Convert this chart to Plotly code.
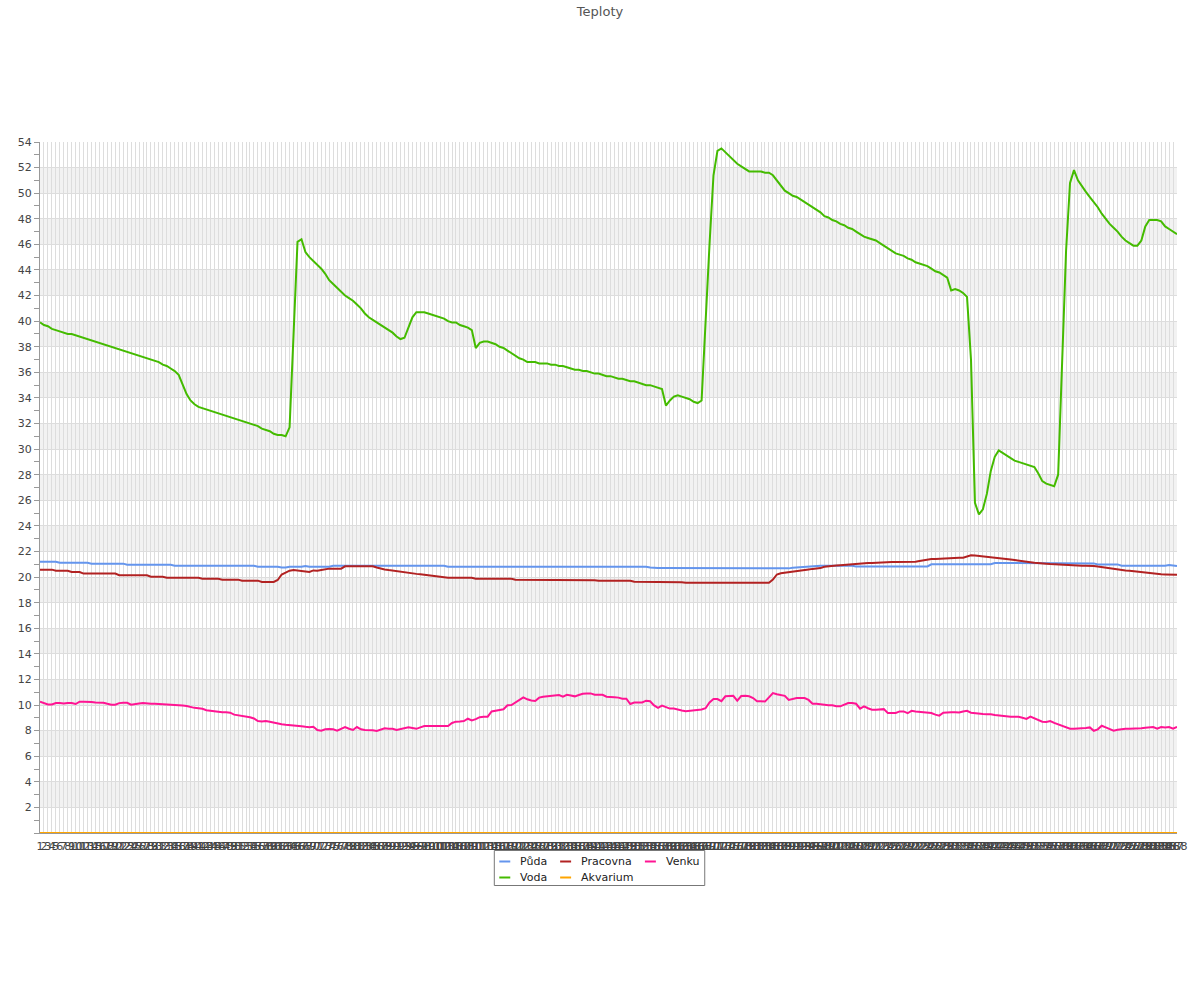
import plotly.graph_objects as go

# ---------------- data ----------------
categories = [str(i) for i in range(1, 289)]

puda = [
    21.2, 21.2, 21.2, 21.2, 21.2, 21.12, 21.12, 21.12, 21.12, 21.12,
    21.12, 21.12, 21.12, 21.05, 21.05, 21.05, 21.05, 21.05, 21.05, 21.05,
    21.05, 21.05, 20.97, 20.97, 20.97, 20.97, 20.97, 20.97, 20.97, 20.97,
    20.97, 20.97, 20.97, 20.97, 20.89, 20.89, 20.89, 20.89, 20.89, 20.89,
    20.89, 20.89, 20.89, 20.89, 20.89, 20.89, 20.89, 20.89, 20.89, 20.89,
    20.89, 20.89, 20.89, 20.89, 20.89, 20.81, 20.81, 20.81, 20.81, 20.81,
    20.81, 20.74, 20.74, 20.81, 20.81, 20.81, 20.81, 20.87, 20.81, 20.81,
    20.81, 20.81, 20.81, 20.81, 20.89, 20.89, 20.89, 20.89, 20.89, 20.89,
    20.89, 20.89, 20.89, 20.89, 20.89, 20.89, 20.89, 20.89, 20.89, 20.89,
    20.89, 20.89, 20.89, 20.89, 20.89, 20.89, 20.89, 20.89, 20.89, 20.89,
    20.89, 20.89, 20.89, 20.81, 20.81, 20.81, 20.81, 20.81, 20.81, 20.81,
    20.81, 20.81, 20.81, 20.81, 20.81, 20.81, 20.81, 20.81, 20.81, 20.81,
    20.81, 20.81, 20.81, 20.81, 20.81, 20.81, 20.81, 20.81, 20.81, 20.81,
    20.81, 20.81, 20.81, 20.81, 20.81, 20.81, 20.81, 20.81, 20.81, 20.81,
    20.81, 20.81, 20.81, 20.81, 20.81, 20.81, 20.81, 20.81, 20.81, 20.81,
    20.81, 20.81, 20.81, 20.81, 20.74, 20.7, 20.7, 20.7, 20.7, 20.7,
    20.7, 20.7, 20.7, 20.7, 20.7, 20.7, 20.7, 20.65, 20.65, 20.65,
    20.65, 20.65, 20.65, 20.65, 20.65, 20.65, 20.65, 20.65, 20.65, 20.65,
    20.65, 20.65, 20.65, 20.65, 20.65, 20.65, 20.65, 20.65, 20.65, 20.68,
    20.72, 20.75, 20.78, 20.8, 20.82, 20.85, 20.87, 20.89, 20.89, 20.89,
    20.89, 20.89, 20.89, 20.89, 20.89, 20.89, 20.83, 20.83, 20.83, 20.83,
    20.83, 20.83, 20.83, 20.83, 20.83, 20.83, 20.83, 20.83, 20.83, 20.83,
    20.83, 20.83, 20.83, 20.83, 20.83, 21.0, 21.0, 21.0, 21.0, 21.0,
    21.0, 21.0, 21.0, 21.0, 21.0, 21.0, 21.0, 21.0, 21.0, 21.0,
    21.0, 21.1, 21.1, 21.1, 21.1, 21.1, 21.1, 21.1, 21.07, 21.07,
    21.07, 21.07, 21.07, 21.07, 21.07, 21.07, 21.07, 21.07, 21.07, 21.07,
    21.07, 21.07, 21.07, 21.07, 21.07, 21.07, 21.07, 20.99, 20.99, 20.99,
    20.99, 20.99, 20.99, 20.89, 20.89, 20.89, 20.89, 20.89, 20.89, 20.89,
    20.89, 20.89, 20.89, 20.89, 20.89, 20.95, 20.92, 20.86,
]

voda = [
    39.9, 39.7, 39.6, 39.4, 39.3, 39.2, 39.1, 39.0, 39.0, 38.9,
    38.8, 38.7, 38.6, 38.5, 38.4, 38.3, 38.2, 38.1, 38.0, 37.9,
    37.8, 37.7, 37.6, 37.5, 37.4, 37.3, 37.2, 37.1, 37.0, 36.9,
    36.8, 36.6, 36.5, 36.3, 36.1, 35.8, 35.0, 34.3, 33.8, 33.5,
    33.3, 33.2, 33.1, 33.0, 32.9, 32.8, 32.7, 32.6, 32.5, 32.4,
    32.3, 32.2, 32.1, 32.0, 31.9, 31.8, 31.6, 31.5, 31.4, 31.2,
    31.1, 31.1, 31.0, 31.7, 39.0, 46.2, 46.4, 45.4, 45.0, 44.7,
    44.4, 44.1, 43.7, 43.2, 42.9, 42.6, 42.3, 42.0, 41.8, 41.6,
    41.3, 41.0, 40.6, 40.3, 40.1, 39.9, 39.7, 39.5, 39.3, 39.1,
    38.8, 38.6, 38.7, 39.5, 40.3, 40.7, 40.7, 40.7, 40.6, 40.5,
    40.4, 40.3, 40.2, 40.0, 39.9, 39.9, 39.7, 39.6, 39.5, 39.3,
    37.9, 38.3, 38.4, 38.4, 38.3, 38.2, 38.0, 37.9, 37.7, 37.5,
    37.3, 37.1, 37.0, 36.8, 36.8, 36.8, 36.7, 36.7, 36.7, 36.6,
    36.6, 36.5, 36.5, 36.4, 36.3, 36.2, 36.2, 36.1, 36.1, 36.0,
    35.9, 35.9, 35.8, 35.7, 35.7, 35.6, 35.5, 35.5, 35.4, 35.3,
    35.3, 35.2, 35.1, 35.0, 35.0, 34.9, 34.8, 34.7, 33.4, 33.8,
    34.1, 34.2, 34.1, 34.0, 33.9, 33.7, 33.6, 33.8, 40.5, 46.0,
    51.4, 53.3, 53.5, 53.2, 52.9, 52.6, 52.3, 52.1, 51.9, 51.7,
    51.7, 51.7, 51.7, 51.6, 51.6, 51.4, 51.0, 50.6, 50.2, 50.0,
    49.8, 49.7, 49.5, 49.3, 49.1, 48.9, 48.7, 48.5, 48.2, 48.1,
    47.9, 47.8, 47.6, 47.5, 47.3, 47.2, 47.0, 46.8, 46.6, 46.5,
    46.4, 46.3, 46.1, 45.9, 45.7, 45.5, 45.3, 45.2, 45.1, 44.9,
    44.8, 44.6, 44.5, 44.4, 44.3, 44.1, 43.9, 43.8, 43.6, 43.4,
    42.4, 42.5, 42.4, 42.2, 41.9, 37.0, 25.8, 24.9, 25.3, 26.5,
    28.3, 29.4, 29.9, 29.7, 29.5, 29.3, 29.1, 29.0, 28.9, 28.8,
    28.7, 28.6, 28.1, 27.5, 27.3, 27.2, 27.1, 28.0, 36.0, 45.5,
    50.8, 51.8, 51.0, 50.5, 50.1, 49.7, 49.3, 48.9, 48.4, 48.0,
    47.6, 47.3, 47.0, 46.6, 46.3, 46.1, 45.9, 45.9, 46.3, 47.4,
    47.9, 47.9, 47.9, 47.8, 47.4, 47.2, 47.0, 46.8,
]

pracovna = [
    20.58, 20.58, 20.58, 20.58, 20.5, 20.5, 20.5, 20.5, 20.4, 20.4,
    20.4, 20.27, 20.27, 20.27, 20.27, 20.27, 20.27, 20.27, 20.27, 20.27,
    20.14, 20.14, 20.14, 20.14, 20.14, 20.14, 20.14, 20.14, 20.03, 20.03,
    20.03, 20.03, 19.95, 19.95, 19.95, 19.95, 19.95, 19.95, 19.95, 19.95,
    19.95, 19.87, 19.87, 19.87, 19.87, 19.87, 19.8, 19.8, 19.8, 19.8,
    19.8, 19.72, 19.72, 19.72, 19.72, 19.72, 19.62, 19.62, 19.62, 19.62,
    19.77, 20.2, 20.35, 20.5, 20.56, 20.52, 20.5, 20.45, 20.4, 20.52,
    20.5, 20.55, 20.62, 20.66, 20.66, 20.66, 20.66, 20.84, 20.84, 20.84,
    20.84, 20.84, 20.84, 20.84, 20.84, 20.75, 20.66, 20.6, 20.55, 20.5,
    20.47, 20.42, 20.37, 20.3, 20.28, 20.25, 20.22, 20.15, 20.14, 20.1,
    20.05, 20.03, 20.0, 19.95, 19.95, 19.95, 19.95, 19.95, 19.95, 19.95,
    19.87, 19.87, 19.87, 19.87, 19.87, 19.87, 19.87, 19.87, 19.87, 19.87,
    19.8, 19.8, 19.8, 19.8, 19.8, 19.8, 19.8, 19.8, 19.8, 19.8,
    19.8, 19.8, 19.8, 19.8, 19.8, 19.8, 19.8, 19.8, 19.8, 19.8,
    19.76, 19.72, 19.72, 19.72, 19.72, 19.72, 19.72, 19.72, 19.72, 19.72,
    19.64, 19.64, 19.64, 19.64, 19.64, 19.64, 19.64, 19.64, 19.64, 19.64,
    19.64, 19.64, 19.6, 19.56, 19.56, 19.56, 19.56, 19.56, 19.56, 19.56,
    19.56, 19.56, 19.56, 19.56, 19.56, 19.56, 19.56, 19.56, 19.56, 19.56,
    19.56, 19.56, 19.56, 19.56, 19.56, 19.8, 20.2, 20.3, 20.35, 20.4,
    20.45, 20.5, 20.55, 20.58, 20.6, 20.64, 20.68, 20.7, 20.8, 20.85,
    20.88, 20.9, 20.93, 20.96, 21.0, 21.0, 21.03, 21.06, 21.08, 21.1,
    21.1, 21.12, 21.15, 21.17, 21.17, 21.17, 21.17, 21.17, 21.17, 21.17,
    21.2, 21.2, 21.25, 21.3, 21.4, 21.41, 21.41, 21.43, 21.45, 21.5,
    21.51, 21.51, 21.51, 21.51, 21.6, 21.7, 21.68, 21.65, 21.62, 21.6,
    21.57, 21.53, 21.5, 21.45, 21.4, 21.37, 21.33, 21.3, 21.25, 21.2,
    21.16, 21.12, 21.08, 21.07, 21.05, 21.02, 21.0, 20.97, 20.94, 20.92,
    20.9, 20.89, 20.89, 20.89, 20.89, 20.89, 20.87, 20.82, 20.77, 20.72,
    20.67, 20.62, 20.58, 20.55, 20.52, 20.49, 20.45, 20.42, 20.39, 20.36,
    20.33, 20.3, 20.25, 20.22, 20.21, 20.2, 20.19, 20.19,
]

akvarium = [
    0, 0, 0, 0, 0, 0, 0, 0, 0, 0, 0, 0, 0, 0, 0, 0, 0, 0, 0, 0, 0, 0, 0, 0,
    0, 0, 0, 0, 0, 0, 0, 0, 0, 0, 0, 0, 0, 0, 0, 0, 0, 0, 0, 0, 0, 0, 0, 0,
    0, 0, 0, 0, 0, 0, 0, 0, 0, 0, 0, 0, 0, 0, 0, 0, 0, 0, 0, 0, 0, 0, 0, 0,
    0, 0, 0, 0, 0, 0, 0, 0, 0, 0, 0, 0, 0, 0, 0, 0, 0, 0, 0, 0, 0, 0, 0, 0,
    0, 0, 0, 0, 0, 0, 0, 0, 0, 0, 0, 0, 0, 0, 0, 0, 0, 0, 0, 0, 0, 0, 0, 0,
    0, 0, 0, 0, 0, 0, 0, 0, 0, 0, 0, 0, 0, 0, 0, 0, 0, 0, 0, 0, 0, 0, 0, 0,
    0, 0, 0, 0, 0, 0, 0, 0, 0, 0, 0, 0, 0, 0, 0, 0, 0, 0, 0, 0, 0, 0, 0, 0,
    0, 0, 0, 0, 0, 0, 0, 0, 0, 0, 0, 0, 0, 0, 0, 0, 0, 0, 0, 0, 0, 0, 0, 0,
    0, 0, 0, 0, 0, 0, 0, 0, 0, 0, 0, 0, 0, 0, 0, 0, 0, 0, 0, 0, 0, 0, 0, 0,
    0, 0, 0, 0, 0, 0, 0, 0, 0, 0, 0, 0, 0, 0, 0, 0, 0, 0, 0, 0, 0, 0, 0, 0,
    0, 0, 0, 0, 0, 0, 0, 0, 0, 0, 0, 0, 0, 0, 0, 0, 0, 0, 0, 0, 0, 0, 0, 0,
    0, 0, 0, 0, 0, 0, 0, 0, 0, 0, 0, 0, 0, 0, 0, 0, 0, 0, 0, 0, 0, 0, 0, 0,
]

venku = [
    10.26, 10.15, 10.05, 10.05, 10.16, 10.15, 10.12, 10.15, 10.15, 10.08,
    10.26, 10.26, 10.26, 10.24, 10.2, 10.2, 10.18, 10.1, 10.03, 10.03,
    10.15, 10.18, 10.18, 10.03, 10.1, 10.12, 10.15, 10.1, 10.1, 10.1,
    10.08, 10.06, 10.05, 10.05, 10.05, 10.0, 9.97, 9.93, 9.83, 9.78,
    9.75, 9.71, 9.6, 9.55, 9.52, 9.45, 9.43, 9.43, 9.4, 9.25,
    9.2, 9.2, 9.15, 9.05, 8.95, 8.75, 8.72, 8.75, 8.7, 8.62,
    8.53, 8.5, 8.46, 8.44, 8.42, 8.4, 8.35, 8.3, 8.26, 8.3,
    8.05, 8.0, 8.1, 8.13, 8.1, 8.0, 8.15, 8.28, 8.15, 8.05,
    8.28, 8.1, 8.05, 8.05, 8.03, 7.97, 8.05, 8.18, 8.15, 8.15,
    8.05, 8.12, 8.2, 8.26, 8.2, 8.14, 8.25, 8.36, 8.36, 8.36,
    8.36, 8.36, 8.36, 8.36, 8.6, 8.7, 8.72, 8.75, 8.93, 8.8,
    8.9, 9.05, 9.09, 9.09, 9.5, 9.58, 9.62, 9.67, 9.98, 10.0,
    10.2, 10.4, 10.6, 10.45, 10.35, 10.32, 10.58, 10.65, 10.68, 10.7,
    10.72, 10.78, 10.65, 10.8, 10.75, 10.68, 10.78, 10.88, 10.91, 10.91,
    10.8, 10.8, 10.8, 10.65, 10.6, 10.6, 10.58, 10.5, 10.5, 10.08,
    10.2, 10.18, 10.2, 10.34, 10.3, 9.97, 9.78, 9.95, 9.82, 9.72,
    9.72, 9.62, 9.58, 9.52, 9.55, 9.6, 9.6, 9.65, 9.75, 10.2,
    10.47, 10.47, 10.3, 10.68, 10.7, 10.72, 10.34, 10.7, 10.72, 10.68,
    10.55, 10.3, 10.3, 10.27, 10.6, 10.94, 10.85, 10.8, 10.72, 10.4,
    10.5, 10.55, 10.55, 10.55, 10.4, 10.1, 10.1, 10.05, 10.0, 9.98,
    9.98, 9.9, 9.9, 10.05, 10.16, 10.16, 10.1, 9.72, 9.9, 9.75,
    9.64, 9.64, 9.68, 9.68, 9.38, 9.38, 9.38, 9.5, 9.5, 9.36,
    9.55, 9.5, 9.48, 9.46, 9.45, 9.38, 9.25, 9.17, 9.4, 9.43,
    9.43, 9.43, 9.42, 9.5, 9.55, 9.4, 9.35, 9.32, 9.3, 9.28,
    9.28, 9.22, 9.18, 9.12, 9.09, 9.09, 9.09, 9.09, 9.0, 8.92,
    9.09, 8.95, 8.85, 8.7, 8.67, 8.75, 8.6, 8.5, 8.38, 8.28,
    8.15, 8.15, 8.15, 8.15, 8.2, 8.25, 7.99, 8.1, 8.38, 8.25,
    8.1, 8.0, 8.07, 8.13, 8.15, 8.15, 8.15, 8.15, 8.18, 8.22,
    8.26, 8.28, 8.15, 8.28, 8.25, 8.28, 8.15, 8.3,
]

series_names = ["Půda", "Voda", "Pracovna", "Akvarium", "Venku"]
series_values = [puda, voda, pracovna, akvarium, venku]
series_colors = ["#6495ED", "#44BB00", "#B22222", "#FFA500", "#FF1493"]

y_tick_values = list(range(0, 56, 2))
y_tick_labels = ["" if v == 0 else str(v) for v in y_tick_values]

for s in series_values:
    assert len(s) == len(categories), len(s)

# ---------------- figure ----------------
FONT = "DejaVu Sans"
W, H = 1200, 1000
ML, MR, MT, MB = 40, 20, 142, 167
PW, PH = W - ML - MR, H - MT - MB

fig = go.Figure()
for name, vals, col in zip(series_names, series_values, series_colors):
    fig.add_trace(go.Scatter(
        x=categories, y=vals, name=name, mode="lines",
        line=dict(color=col, width=2), showlegend=False, cliponaxis=False,
    ))

shapes = []
# alternating horizontal bands
for lo in range(2, 54, 4):
    shapes.append(dict(type="rect", xref="paper", yref="y", x0=0, x1=1,
                       y0=lo, y1=lo + 2, fillcolor="#f2f2f2",
                       line=dict(width=0), layer="below"))


def px(x):
    return (x - ML) / PW


def py(y):
    return (H - MB - y) / PH


# legend box (manual, 3 columns x 2 rows)
shapes.append(dict(type="rect", xref="paper", yref="paper",
                   x0=px(495.5), x1=px(706.5), y0=py(850.5), y1=py(885.5),
                   line=dict(color="#777777", width=1), fillcolor="white"))
legend_cols = [500.5, 561.5, 646.5]
legend_rows = [861.5, 877.5]
legend_slots = [(0, 0), (0, 1), (1, 0), (1, 1), (2, 0)]
annotations = []
for (c, r), name, col in zip(legend_slots, series_names, series_colors):
    x0 = legend_cols[c]
    yy = legend_rows[r]
    shapes.append(dict(type="line", xref="paper", yref="paper",
                       x0=px(x0), x1=px(x0 + 11), y0=py(yy), y1=py(yy),
                       line=dict(color=col, width=2)))
    annotations.append(dict(xref="paper", yref="paper", x=px(x0 + 19),
                            y=py(yy), text=name, showarrow=False,
                            xanchor="left", yanchor="middle",
                            font=dict(family=FONT, size=11, color="#222222")))

fig.update_layout(
    width=W, height=H,
    margin=dict(l=ML, r=MR, t=MT, b=MB, pad=0),
    paper_bgcolor="white", plot_bgcolor="white",
    font=dict(family=FONT, size=11, color="#444444"),
    title=dict(text="Teploty", x=0.5, xref="container", xanchor="center",
               y=1 - 11 / H, yref="container", yanchor="middle",
               font=dict(family=FONT, size=13, color="#555555")),
    shapes=shapes, annotations=annotations,
    showlegend=False, hovermode=False,
)
fig.update_xaxes(
    type="category", range=[0, len(categories) - 1],
    tickmode="array", tickvals=categories, ticktext=categories,
    tickangle=0, ticks="outside", ticklen=3, tickcolor="rgba(0,0,0,0)",
    showgrid=True, gridcolor="#dddddd", gridwidth=1,
    showline=True, linecolor="#999999", linewidth=1, zeroline=False,
    tickfont=dict(family=FONT, size=11, color="#444444"),
)
fig.update_yaxes(
    range=[0, 54], tickmode="array", tickvals=y_tick_values,
    ticktext=y_tick_labels, ticks="outside", ticklen=5, tickcolor="#999999",
    showgrid=True, gridcolor="#dddddd", gridwidth=1, zeroline=False,
    showline=True, linecolor="#999999", linewidth=1,
    tickfont=dict(family=FONT, size=11, color="#444444"),
    minor=dict(tickvals=list(range(1, 55, 2)), ticks="outside", ticklen=5,
               tickcolor="#999999", showgrid=False),
)

fig.write_html("out.html", config={"displayModeBar": False},
               post_script="document.body.style.margin='0';")
